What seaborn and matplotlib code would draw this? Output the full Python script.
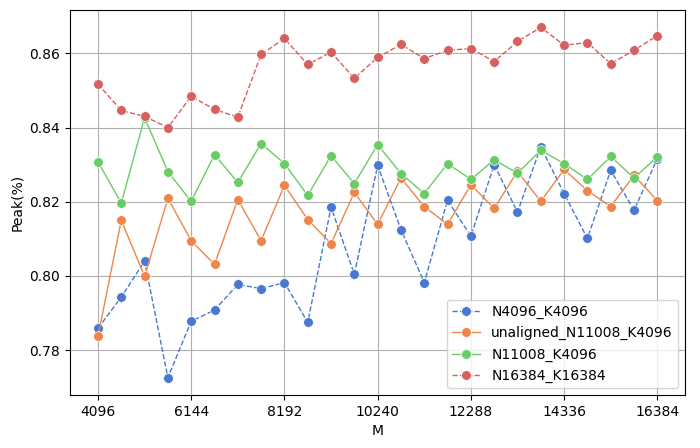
import matplotlib
matplotlib.use("Agg")
import matplotlib.pyplot as plt
import seaborn as sns
import numpy as np
import pandas as pd

M = list(range(4096, 16384 + 1, 512))

n4096_k4096 = [0.7859, 0.7943, 0.8040, 0.7726, 0.7878, 0.7908, 0.7977, 0.7966, 0.7982,
               0.7875, 0.8185, 0.8005, 0.8298, 0.8125, 0.7982, 0.8204, 0.8107, 0.8300,
               0.8172, 0.8348, 0.8222, 0.8101, 0.8285, 0.8177, 0.8316]
unaligned_n11008_k4096 = [0.7837, 0.8150, 0.7999, 0.8209, 0.8095, 0.8031, 0.8206, 0.8095,
                          0.8244, 0.8152, 0.8087, 0.8225, 0.8139, 0.8264, 0.8187, 0.8139,
                          0.8246, 0.8182, 0.8282, 0.8201, 0.8287, 0.8230, 0.8187, 0.8271,
                          0.8203]
n11008_k4096 = [0.8308, 0.8196, 0.8427, 0.8281, 0.8201, 0.8327, 0.8252, 0.8357, 0.8303,
                0.8217, 0.8324, 0.8249, 0.8354, 0.8276, 0.8222, 0.8303, 0.8260, 0.8313,
                0.8277, 0.8339, 0.8303, 0.8260, 0.8322, 0.8264, 0.8321]
n16384_k16384 = [0.8517, 0.8446, 0.8430, 0.8400, 0.8484, 0.8449, 0.8428, 0.8597, 0.8640,
                 0.8570, 0.8603, 0.8533, 0.8589, 0.8624, 0.8586, 0.8608, 0.8613, 0.8578,
                 0.8632, 0.8670, 0.8622, 0.8629, 0.8572, 0.8608, 0.8648]

series_names = ["N4096_K4096", "unaligned_N11008_K4096", "N11008_K4096", "N16384_K16384"]
series_values = [n4096_k4096, unaligned_n11008_k4096, n11008_k4096, n16384_k16384]
linestyles = ["--", "-", "-", "--"]
xtick_values = list(range(4096, 16384 + 1, 2048))

colors = sns.color_palette("muted", 4)

fig, ax = plt.subplots(figsize=(7, 4.48), dpi=100)
for name, vals, ls, c in zip(series_names, series_values, linestyles, colors):
    df = pd.DataFrame({"M": M, "Peak": vals})
    sns.lineplot(data=df, x="M", y="Peak", ax=ax, color=c, linestyle=ls,
                 marker="o", markersize=7, linewidth=1, label=name,
                 markeredgecolor="white", markeredgewidth=0.5)

ax.set_xticks(xtick_values)
ax.set_xlabel("M")
ax.set_ylabel("Peak(%)")
ax.grid(True)
ax.legend(loc="lower right")
fig.subplots_adjust(left=0.1, right=0.979, top=0.978, bottom=0.118)
fig.savefig("out.png", dpi=100)
